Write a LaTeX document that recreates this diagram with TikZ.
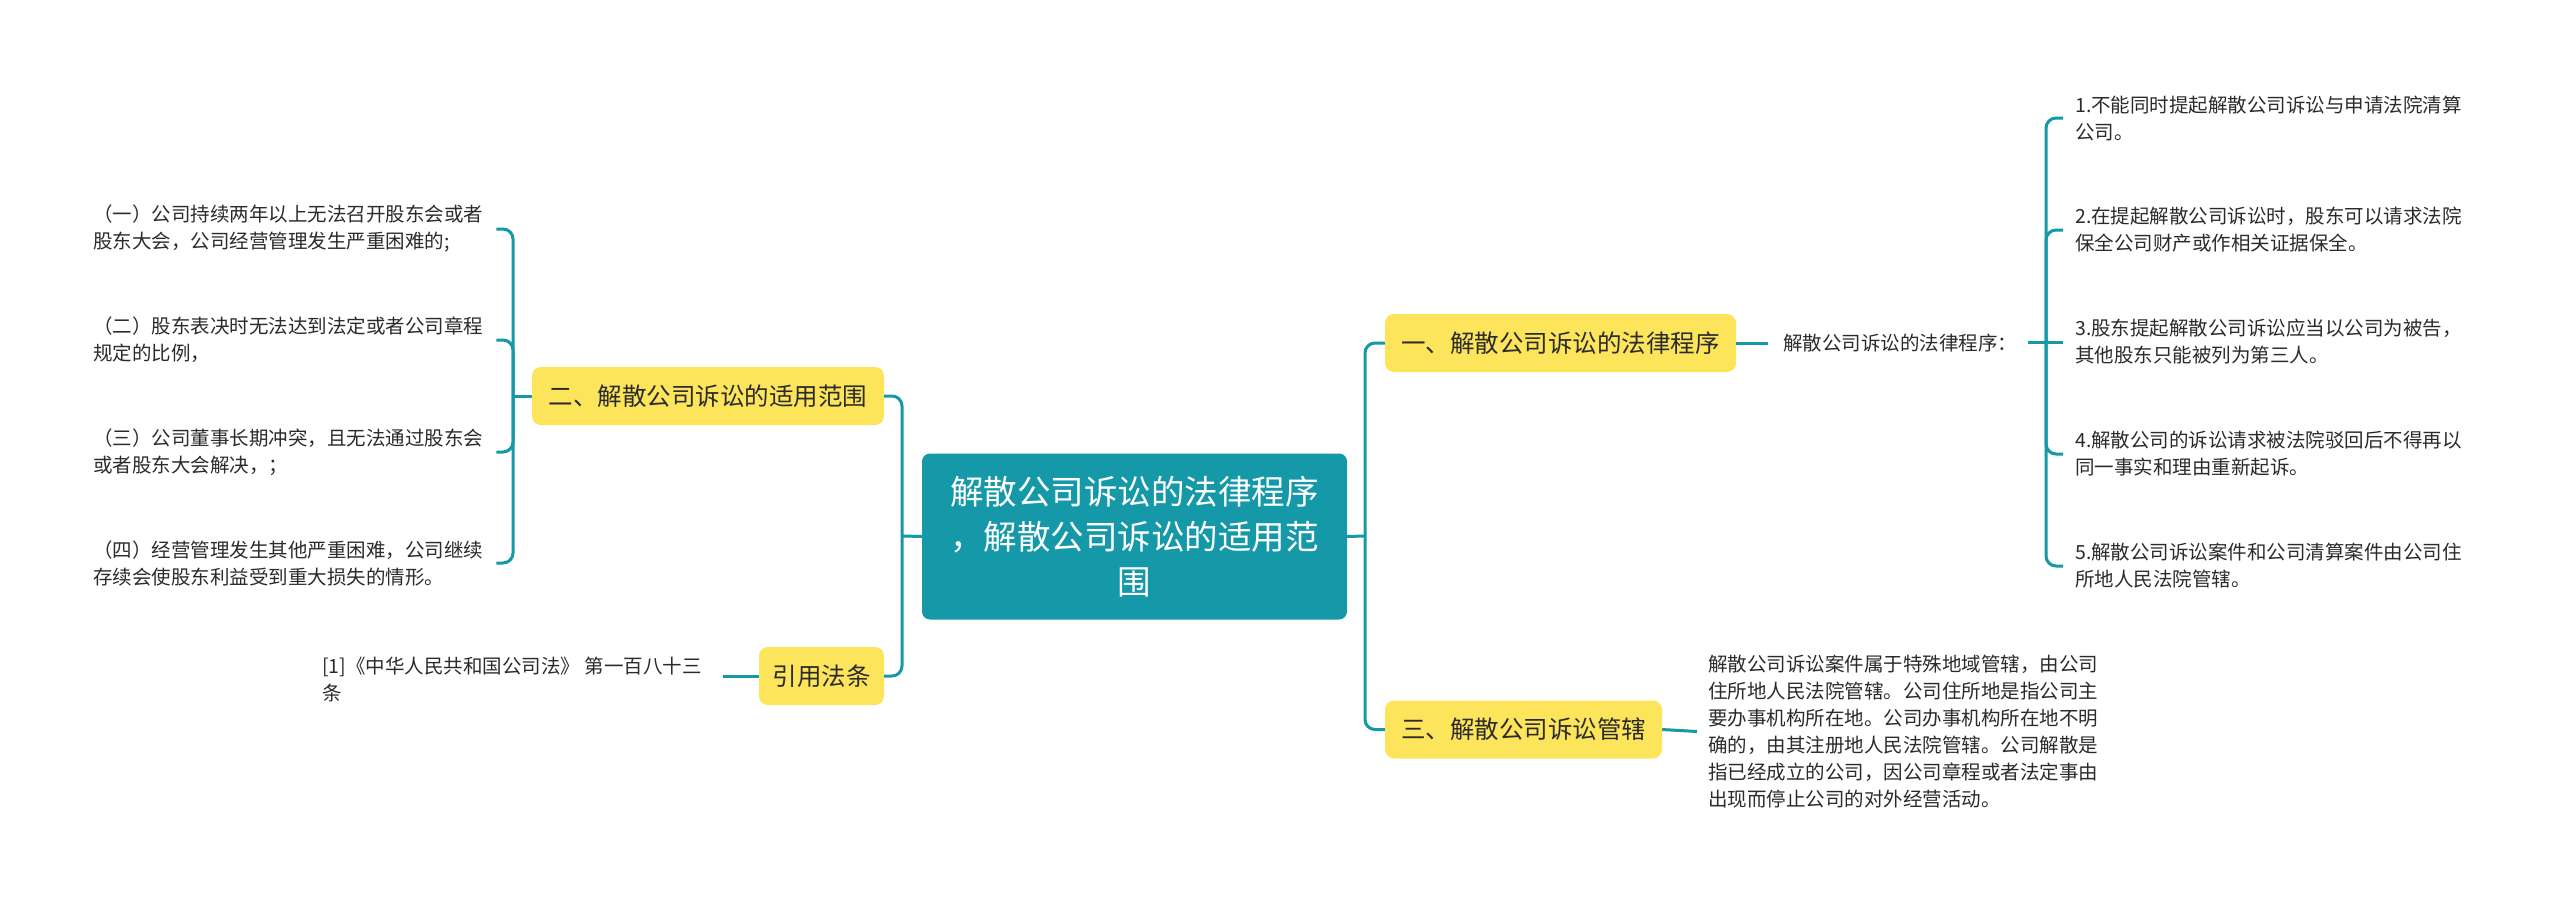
\documentclass[tikz,border=0pt]{standalone}
\usepackage{fontspec}
\newfontfamily\cjk{Noto Sans CJK SC}
\definecolor{tealc}{HTML}{1598A8}
\definecolor{yel}{HTML}{FDE55B}
\definecolor{txt}{HTML}{2B2B2B}
\begin{document}
\begin{tikzpicture}[x=1pt,y=-1pt,
  conn/.style={draw=tealc,line width=3pt,rounded corners=10pt},
  topic/.style={fill=tealc,rounded corners=8pt,text=white,font=\cjk\fontsize{33.5}{45}\selectfont,align=center,inner sep=0pt,minimum width=425pt,minimum height=166pt},
  branch/.style={fill=yel,rounded corners=9pt,text=txt,font=\cjk\fontsize{24.5}{30}\selectfont,inner sep=0pt,minimum height=58pt},
  leaf/.style={font=\cjk\fontsize{19.5}{27}\selectfont,text=txt,align=left,inner sep=0pt,anchor=west}]
\fill[white] (0,0) rectangle (2560,899);
\useasboundingbox (0,0) rectangle (2560,899);

% central topic
\node[topic] (c) at (1134.5,536.5) {解散公司诉讼的法律程序\\，解散公司诉讼的适用范\\围};

% branches
\node[branch,minimum width=351pt] (b1) at (1560.5,343) {一、解散公司诉讼的法律程序};
\node[branch,minimum width=277pt] (b3) at (1523.5,729.5) {三、解散公司诉讼管辖};
\node[branch,minimum width=352pt] (b2) at (708,396) {二、解散公司诉讼的适用范围};
\node[branch,minimum width=125pt] (b4) at (821.5,676) {引用法条};

\coordinate (lj) at (902,536);
\coordinate (rj) at (1365,536);
\draw[conn] (b2.east) -| (lj) |- (b4.east);
\draw[conn] (c.west) -- (lj);
\draw[conn] (b1.west) -| (rj) |- (b3.west);
\draw[conn] (c.east) -- (rj);

% branch 1 children
\node[leaf] (lab) at (1783,343) {解散公司诉讼的法律程序：};
\draw[conn] (b1.east) -- ([xshift=32pt]b1.east);

\node[leaf,text width=375pt] (r1) at (2075,118) {1.不能同时提起解散公司诉讼与申请法院清算\\公司。};
\node[leaf,text width=375pt] (r2) at (2075,230) {2.在提起解散公司诉讼时，股东可以请求法院\\保全公司财产或作相关证据保全。};
\node[leaf,text width=375pt] (r3) at (2075,342) {3.股东提起解散公司诉讼应当以公司为被告，\\其他股东只能被列为第三人。};
\node[leaf,text width=375pt] (r4) at (2075,454) {4.解散公司的诉讼请求被法院驳回后不得再以\\同一事实和理由重新起诉。};
\node[leaf,text width=375pt] (r5) at (2075,566) {5.解散公司诉讼案件和公司清算案件由公司住\\所地人民法院管辖。};
\coordinate (rb) at (2046,342);
\draw[conn] ([xshift=-47pt]r3.west) -- ([xshift=-12pt]r3.west);
\draw[conn] ([xshift=-12pt]r1.west) -| (rb);
\draw[conn] ([xshift=-12pt]r2.west) -| (rb);
\draw[conn] ([xshift=-12pt]r4.west) -| (rb);
\draw[conn] ([xshift=-12pt]r5.west) -| (rb);

% branch 3 child
\node[leaf,text width=395pt] (t3) at (1708,731.5) {解散公司诉讼案件属于特殊地域管辖，由公司\\住所地人民法院管辖。公司住所地是指公司主\\要办事机构所在地。公司办事机构所在地不明\\确的，由其注册地人民法院管辖。公司解散是\\指已经成立的公司，因公司章程或者法定事由\\出现而停止公司的对外经营活动。};
\draw[conn] (b3.east) -- ([xshift=-11pt]t3.west);

% branch 2 children
\node[leaf,text width=390pt] (l1) at (93,229) {（一）公司持续两年以上无法召开股东会或者\\股东大会，公司经营管理发生严重困难的;};
\node[leaf,text width=390pt] (l2) at (93,340) {（二）股东表决时无法达到法定或者公司章程\\规定的比例，};
\node[leaf,text width=390pt] (l3) at (93,452) {（三）公司董事长期冲突，且无法通过股东会\\或者股东大会解决，；};
\node[leaf,text width=390pt] (l4) at (93,563) {（四）经营管理发生其他严重困难，公司继续\\存续会使股东利益受到重大损失的情形。};
\coordinate (lb) at (513,396);
\draw[conn] (b2.west) -- (lb);
\draw[conn] ([xshift=13pt]l1.east) -| (lb);
\draw[conn] ([xshift=13pt]l2.east) -| (lb);
\draw[conn] ([xshift=13pt]l3.east) -| (lb);
\draw[conn] ([xshift=13pt]l4.east) -| (lb);

% branch 4 child
\node[leaf] (cite) at (322,679) {[1]《中华人民共和国公司法》 第一百八十三\\条};
\draw[conn] (b4.west) -- ([xshift=-36pt]b4.west);
\end{tikzpicture}
\end{document}
